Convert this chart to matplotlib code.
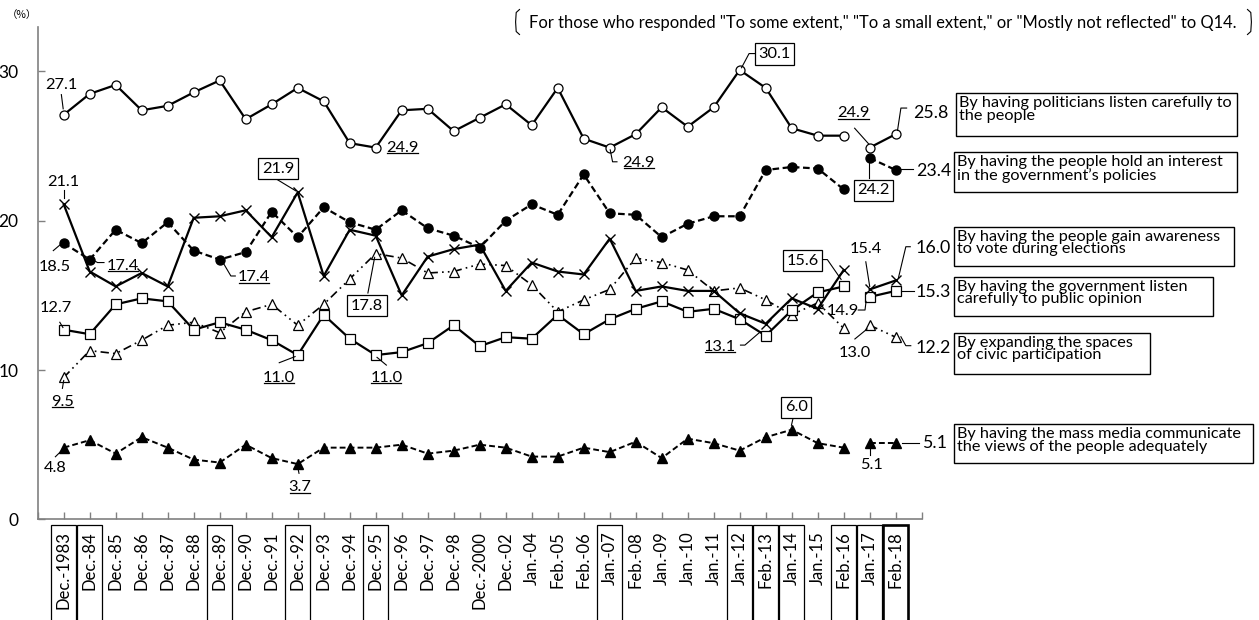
import matplotlib
matplotlib.use('Agg')
import matplotlib.pyplot as plt
import matplotlib.transforms as mtrans
from matplotlib.patches import Rectangle
from matplotlib.lines import Line2D

plt.rcParams['font.family'] = ['Lato', 'DejaVu Sans']

categories = ["Dec.-1983", "Dec.-84", "Dec.-85", "Dec.-86", "Dec.-87", "Dec.-88", "Dec.-89",
              "Dec.-90", "Dec.-91", "Dec.-92", "Dec.-93", "Dec.-94", "Dec.-95", "Dec.-96",
              "Dec.-97", "Dec.-98", "Dec.-2000", "Dec.-02", "Jan.-04", "Feb.-05", "Feb.-06",
              "Jan.-07", "Feb.-08", "Jan.-09", "Jan.-10", "Jan.-11", "Jan.-12", "Feb.-13",
              "Jan.-14", "Jan.-15", "Feb.-16", "Jan.-17", "Feb.-18"]
boxed_categories = ["Dec.-1983", "Dec.-84", "Dec.-89", "Dec.-92", "Dec.-95", "Jan.-07",
                    "Jan.-12", "Feb.-13", "Jan.-14", "Feb.-16", "Jan.-17", "Feb.-18"]

politicians = [27.1, 28.5, 29.1, 27.4, 27.7, 28.6, 29.4, 26.8, 27.8, 28.9, 28.0, 25.2, 24.9,
               27.4, 27.5, 26.0, 26.9, 27.8, 26.4, 28.9, 25.5, 24.9, 25.8, 27.6, 26.3, 27.6,
               30.1, 28.9, 26.2, 25.7, 25.7, 24.9, 25.8]
interest = [18.5, 17.4, 19.4, 18.5, 19.9, 18.0, 17.4, 17.9, 20.6, 18.9, 20.9, 19.9, 19.4,
            20.7, 19.5, 19.0, 18.2, 20.0, 21.1, 20.4, 23.1, 20.5, 20.4, 18.9, 19.8, 20.3,
            20.3, 23.4, 23.6, 23.5, 22.1, 24.2, 23.4]
vote = [21.1, 16.6, 15.6, 16.5, 15.6, 20.2, 20.3, 20.7, 18.9, 21.9, 16.3, 19.4, 19.0, 15.0,
        17.6, 18.1, 18.4, 15.3, 17.2, 16.6, 16.4, 18.8, 15.3, 15.6, 15.3, 15.3, 13.8, 13.1,
        14.8, 14.1, 16.7, 15.4, 16.0]
government = [12.7, 12.4, 14.4, 14.8, 14.6, 12.7, 13.2, 12.7, 12.0, 11.0, 13.7, 12.1, 11.0,
              11.2, 11.8, 13.0, 11.6, 12.2, 12.1, 13.7, 12.4, 13.4, 14.1, 14.6, 13.9, 14.1,
              13.4, 12.3, 14.0, 15.2, 15.6, 14.9, 15.3]
civic = [9.5, 11.3, 11.1, 12.0, 13.0, 13.2, 12.5, 13.9, 14.4, 13.0, 14.4, 16.1, 17.8, 17.5,
         16.5, 16.6, 17.1, 17.0, 15.7, 13.9, 14.7, 15.4, 17.5, 17.2, 16.7, 15.3, 15.5, 14.7,
         13.7, 14.5, 12.8, 13.0, 12.2]
media = [4.8, 5.3, 4.4, 5.5, 4.8, 4.0, 3.8, 5.0, 4.1, 3.7, 4.8, 4.8, 4.8, 5.0, 4.4, 4.6, 5.0,
         4.8, 4.2, 4.2, 4.8, 4.5, 5.2, 4.1, 5.4, 5.1, 4.6, 5.5, 6.0, 5.1, 4.8, 5.1, 5.1]

legend_texts = ["By having politicians listen carefully to\nthe people",
                "By having the people hold an interest\nin the government\u2019s policies",
                "By having the people gain awareness\nto vote during elections",
                "By having the government listen\ncarefully to public opinion",
                "By expanding the spaces\nof civic participation",
                "By having the mass media communicate\nthe views of the people adequately"]
note_text = ('For those who responded "To some extent," "To a small extent," '
             'or "Mostly not reflected" to Q14.')

W, H = 1259, 620
fig = plt.figure(figsize=(W / 100, H / 100), dpi=100)
ax = fig.add_axes([37.7 / W, 1 - 519.3 / H, (921.7 - 37.7) / W, (519.3 - 26.7) / H])
ax.set_xlim(-1, 33)
ax.set_ylim(0, 33)

x = list(range(len(categories)))
BREAK = 31


def plot_series(vals, **kw):
    ax.plot(x[:BREAK], vals[:BREAK], **kw)
    ax.plot(x[BREAK:], vals[BREAK:], **kw)


plot_series(media, color='black', lw=1.4, ls=(0, (3, 1.6)), marker='^', ms=6.5,
            mfc='black', mec='black', zorder=3)
plot_series(civic, color='black', lw=1.2, ls=(0, (5, 2.5, 1, 2.5, 1, 2.5)), marker='^', ms=7,
            mfc='white', mec='black', mew=0.9, zorder=3)
plot_series(government, color='black', lw=1.6, marker='s', ms=6.5, mfc='white', mec='black',
            mew=0.9, zorder=4)
plot_series(vote, color='black', lw=1.6, marker='x', ms=7.5, mew=1.0, zorder=4)
plot_series(interest, color='black', lw=1.6, ls=(0, (3, 1.6)), marker='o', ms=6.5,
            mfc='black', mec='black', zorder=4)
plot_series(politicians, color='black', lw=1.6, marker='o', ms=6.5, mfc='white', mec='black',
            mew=0.9, zorder=5)

# axes styling
for s in ['top', 'right']:
    ax.spines[s].set_visible(False)
for s in ['left', 'bottom']:
    ax.spines[s].set_color('#808080')
    ax.spines[s].set_linewidth(1.2)
ax.set_yticks([0, 10, 20, 30])
ax.tick_params(axis='y', direction='in', length=5, width=1, color='#808080', pad=14,
               labelsize=12.5)
ax.set_xticks(range(-1, 34))
ax.set_xticklabels([])
ax.tick_params(axis='x', direction='in', length=5, width=1, color='#808080')

# category labels with boxes
btr = mtrans.blended_transform_factory(ax.transData, ax.transAxes)
for i, c in enumerate(categories):
    ax.text(i, -0.024, c, transform=btr, rotation=90, ha='center', va='top', fontsize=12,
            clip_on=False)
    if c in boxed_categories:
        lw = 1.9 if c == "Feb.-18" else 0.9
        ax.add_patch(Rectangle((i - 0.47, -0.3), 0.94, 0.3 - 0.0116, transform=btr,
                               fill=False, lw=lw, ec='black', clip_on=False))

# data labels
texts_to_underline = []


def dlabel(txt, pos, boxed=False, underline=False, fs=11.8, ha='center'):
    kw = {}
    if boxed:
        kw['bbox'] = dict(boxstyle='square,pad=0.22', fc='white', ec='black', lw=0.9)
    t = ax.text(pos[0], pos[1], txt, ha=ha, va='center', fontsize=fs, zorder=7,
                clip_on=False, **kw)
    if underline:
        texts_to_underline.append(t)
    return t


def leader(xs, ys):
    ax.plot(xs, ys, color='black', lw=0.8, zorder=6, clip_on=False)


dlabel("27.1", (-0.09, 29.1)); leader([-0.09, -0.02], [28.45, 27.5])
dlabel("21.1", (0.0, 22.6)); leader([0, 0], [22.05, 21.55])
dlabel("18.5", (-0.36, 16.9)); leader([-0.40, -0.13], [18.0, 18.4])
dlabel("17.4", (2.27, 17.0), underline=True); leader([1.15, 1.3, 1.55], [17.35, 17.2, 17.2])
dlabel("17.4", (7.32, 16.2), underline=True); leader([6.11, 6.43, 6.6], [17.25, 16.3, 16.3])
dlabel("21.9", (8.24, 23.5), boxed=True); leader([8.23, 8.93], [22.74, 22.0])
dlabel("24.9", (13.03, 24.9), underline=True)
dlabel("17.8", (11.67, 14.3), boxed=True); leader([11.7, 11.96], [15.16, 17.55])
dlabel("12.7", (-0.32, 14.15)); leader([-0.15, -0.03], [13.2, 12.85])
dlabel("9.5", (-0.05, 7.88), underline=True); leader([-0.05, 0.0], [8.77, 9.3])
dlabel("11.0", (8.28, 9.47), underline=True); leader([8.29, 8.9], [10.49, 10.9])
dlabel("11.0", (12.41, 9.47), underline=True); leader([12.41, 12.05], [10.33, 10.85])
dlabel("4.8", (-0.32, 3.44)); leader([-0.32, -0.05], [4.19, 4.65])
dlabel("3.7", (9.09, 2.16), underline=True); leader([9.05, 9.0], [3.08, 3.5])
dlabel("24.9", (22.12, 23.87), underline=True); leader([21.02, 21.11, 21.28], [24.75, 23.95, 23.95])
dlabel("30.1", (27.33, 31.17), boxed=True); leader([26.07, 26.36, 26.6], [30.25, 31.2, 31.2])
dlabel("24.9", (30.38, 27.2), underline=True); leader([30.42, 30.96], [26.2, 25.15])
dlabel("24.2", (31.15, 22.05), boxed=True); leader([30.99, 30.99], [22.86, 23.95])
dlabel("15.6", (28.41, 17.32), boxed=True); leader([29.1, 29.37, 29.9], [17.4, 17.4, 16.07])
dlabel("15.4", (30.84, 18.1)); leader([30.85, 31.0], [17.25, 15.6])
dlabel("14.9", (29.98, 13.97)); leader([30.56, 30.82, 30.86], [14.02, 14.02, 14.6])
dlabel("13.1", (25.25, 11.56), underline=True); leader([26.03, 26.2, 26.8], [11.67, 11.67, 12.57])
dlabel("13.0", (30.42, 11.14)); leader([30.43, 30.9], [12.08, 12.75])
dlabel("6.0", (28.18, 7.5), boxed=True); leader([28.06, 27.99], [6.83, 6.3])
dlabel("5.1", (31.07, 3.64)); leader([31.0, 31.0], [4.3, 4.82])
# right end labels
dlabel("25.8", (32.67, 27.23), fs=12.8, ha='left'); leader([32.07, 32.2, 32.42], [26.05, 27.55, 27.55])
dlabel("23.4", (32.78, 23.35), fs=12.8, ha='left'); leader([32.2, 32.68], [23.5, 23.5])
dlabel("16.0", (32.78, 18.17), fs=12.8, ha='left'); leader([32.1, 32.39, 32.56], [16.14, 18.26, 18.26])
dlabel("15.3", (32.78, 15.25), fs=12.8, ha='left'); leader([32.2, 32.7], [15.31, 15.31])
dlabel("12.2", (32.78, 11.5), fs=12.8, ha='left'); leader([32.2, 32.39, 32.58], [12.23, 11.63, 11.63])
dlabel("5.1", (33.02, 5.09), fs=12.8, ha='left'); leader([32.25, 32.9], [5.09, 5.09])


def fp(px, py):
    return px / W, 1 - py / H


# legend boxes
legend_boxes = [(955.7, 93.3, 1237.3, 136.0), (954.3, 152.3, 1237.3, 191.7),
                (954.3, 226.7, 1234.3, 265.7), (954.3, 276.7, 1212.7, 316.0),
                (954.3, 332.7, 1150.0, 374.0), (954.3, 424.3, 1252.7, 463.3)]
for txt, (x0, y0, x1, y1) in zip(legend_texts, legend_boxes):
    fx0, fy1 = fp(x0, y1)
    fx1, fy0 = fp(x1, y0)
    fig.add_artist(Rectangle((fx0, fy1), fx1 - fx0, fy0 - fy1, transform=fig.transFigure,
                             fill=False, ec='black', lw=1.0))
    tx, ty = fp(x0 + 3, y0 + 3)
    fig.text(tx, ty, txt, ha='left', va='top', fontsize=11.7, linespacing=0.86)

# top note with brackets
nx, ny = fp(529, 23)
fig.text(nx, ny, note_text, ha='left', va='center', fontsize=11.9)
lb = [fp(519.5, 9.5), fp(516.2, 12.5), fp(515.6, 22), fp(516.2, 31.5), fp(519.5, 34.5)]
rb = [fp(1247.5, 9.5), fp(1250.8, 12.5), fp(1251.4, 22), fp(1250.8, 31.5), fp(1247.5, 34.5)]
for pts in (lb, rb):
    fig.add_artist(Line2D([p[0] for p in pts], [p[1] for p in pts], transform=fig.transFigure,
                          color='black', lw=0.8))

px_, py_ = fp(22, 15)
fig.text(px_, py_, '（%）', ha='center', va='center', fontsize=7.5,
         family=['Noto Sans CJK JP', 'DejaVu Sans'])

# underlines
fig.canvas.draw()
renderer = fig.canvas.get_renderer()
inv = fig.transFigure.inverted()
for t in texts_to_underline:
    bb = t.get_window_extent(renderer)
    (ux0, uy), (ux1, _) = inv.transform([(bb.x0 + 1, bb.y0 + 1.5), (bb.x1 - 1, bb.y0 + 1.5)])
    fig.add_artist(Line2D([ux0, ux1], [uy, uy], transform=fig.transFigure, color='black',
                          lw=0.9))

fig.savefig('out.png', dpi=100)
